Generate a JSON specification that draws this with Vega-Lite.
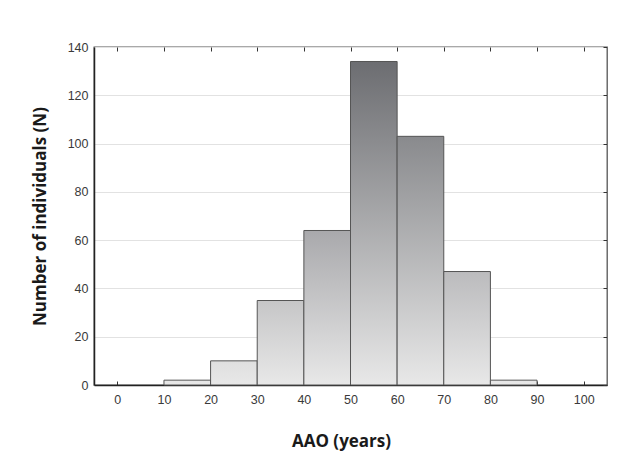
{
  "$schema": "https://vega.github.io/schema/vega-lite/v6.json",
  "width": 513,
  "height": 338,
  "autosize": "none",
  "padding": {"left": 94, "top": 47, "right": 21, "bottom": 88},
  "background": "white",
  "config": {
    "view": {"stroke": "#555555", "strokeWidth": 1.3},
    "axis": {
      "labelFont": "Liberation Sans",
      "labelFontSize": 12.5,
      "labelColor": "#3a3a3a",
      "titleFont": "Open Sans",
      "titleFontSize": 17,
      "titleFontWeight": "bold",
      "titleColor": "#1a1a1a",
      "domainColor": "#222222",
      "domainWidth": 1.5,
      "tickColor": "#333333",
      "tickWidth": 1
    }
  },
  "data": {
    "values": [
      {"start": 10, "end": 20, "count": 2},
      {"start": 20, "end": 30, "count": 10},
      {"start": 30, "end": 40, "count": 35},
      {"start": 40, "end": 50, "count": 64},
      {"start": 50, "end": 60, "count": 134},
      {"start": 60, "end": 70, "count": 103},
      {"start": 70, "end": 80, "count": 47},
      {"start": 80, "end": 90, "count": 2}
    ]
  },
  "resolve": {"axis": {"x": "independent", "y": "independent"}},
  "layer": [
    {
      "mark": {"type": "bar", "opacity": 0},
      "encoding": {
        "x": {"field": "start", "type": "quantitative", "scale": {"domain": [-5, 105], "nice": false, "zero": false},
          "axis": {"orient": "top", "values": [0,10,20,30,40,50,60,70,80,90,100], "labels": false, "domain": false, "grid": false, "tickSize": -4, "title": null}},
        "x2": {"field": "end"},
        "y": {"field": "count", "type": "quantitative", "scale": {"domain": [0, 140], "nice": false},
          "axis": {"orient": "right", "values": [0,20,40,60,80,100,120,140], "labels": false, "domain": false, "grid": false, "tickSize": -4, "title": null}},
        "y2": {"datum": 0}
      }
    },
    {
      "transform": [{"filter": "datum.start == 10"}],
      "mark": {"type": "bar", "stroke": "#555555", "strokeWidth": 1, "fill": {"gradient": "linear", "x1": 0, "y1": 0, "x2": 0, "y2": 1, "stops": [{"offset": 0, "color": "#e6e6e6"}, {"offset": 1, "color": "#e8e8e8"}]}},
      "encoding": {
        "x": {"field": "start", "type": "quantitative", "scale": {"domain": [-5, 105], "nice": false, "zero": false},
          "axis": {"orient": "bottom", "values": [0,10,20,30,40,50,60,70,80,90,100], "grid": false, "tickSize": -4, "labelPadding": 12, "title": "AAO (years)", "titlePadding": 28, "titleX": 247}},
        "x2": {"field": "end"},
        "y": {"field": "count", "type": "quantitative", "scale": {"domain": [0, 140], "nice": false},
          "axis": {"orient": "left", "values": [0,20,40,60,80,100,120,140], "grid": true, "gridColor": "#e2e2e2", "gridWidth": 1, "tickSize": 0, "labelPadding": 6, "title": "Number of individuals (N)", "titlePadding": 18}},
        "y2": {"datum": 0}
      }
    },
    {
      "transform": [{"filter": "datum.start == 20"}],
      "mark": {"type": "bar", "stroke": "#555555", "strokeWidth": 1, "fill": {"gradient": "linear", "x1": 0, "y1": 0, "x2": 0, "y2": 1, "stops": [{"offset": 0, "color": "#dfdfdf"}, {"offset": 1, "color": "#e8e8e8"}]}},
      "encoding": {"x": {"field": "start", "type": "quantitative", "axis": null}, "x2": {"field": "end"}, "y": {"field": "count", "type": "quantitative", "axis": null}, "y2": {"datum": 0}}
    },
    {
      "transform": [{"filter": "datum.start == 30"}],
      "mark": {"type": "bar", "stroke": "#555555", "strokeWidth": 1, "fill": {"gradient": "linear", "x1": 0, "y1": 0, "x2": 0, "y2": 1, "stops": [{"offset": 0, "color": "#c6c6c7"}, {"offset": 1, "color": "#e8e8e8"}]}},
      "encoding": {"x": {"field": "start", "type": "quantitative", "axis": null}, "x2": {"field": "end"}, "y": {"field": "count", "type": "quantitative", "axis": null}, "y2": {"datum": 0}}
    },
    {
      "transform": [{"filter": "datum.start == 40"}],
      "mark": {"type": "bar", "stroke": "#555555", "strokeWidth": 1, "fill": {"gradient": "linear", "x1": 0, "y1": 0, "x2": 0, "y2": 1, "stops": [{"offset": 0, "color": "#a9a9ac"}, {"offset": 1, "color": "#e8e8e8"}]}},
      "encoding": {"x": {"field": "start", "type": "quantitative", "axis": null}, "x2": {"field": "end"}, "y": {"field": "count", "type": "quantitative", "axis": null}, "y2": {"datum": 0}}
    },
    {
      "transform": [{"filter": "datum.start == 50"}],
      "mark": {"type": "bar", "stroke": "#555555", "strokeWidth": 1, "fill": {"gradient": "linear", "x1": 0, "y1": 0, "x2": 0, "y2": 1, "stops": [{"offset": 0, "color": "#6c6d71"}, {"offset": 1, "color": "#e8e8e8"}]}},
      "encoding": {"x": {"field": "start", "type": "quantitative", "axis": null}, "x2": {"field": "end"}, "y": {"field": "count", "type": "quantitative", "axis": null}, "y2": {"datum": 0}}
    },
    {
      "transform": [{"filter": "datum.start == 60"}],
      "mark": {"type": "bar", "stroke": "#555555", "strokeWidth": 1, "fill": {"gradient": "linear", "x1": 0, "y1": 0, "x2": 0, "y2": 1, "stops": [{"offset": 0, "color": "#898a8d"}, {"offset": 1, "color": "#e8e8e8"}]}},
      "encoding": {"x": {"field": "start", "type": "quantitative", "axis": null}, "x2": {"field": "end"}, "y": {"field": "count", "type": "quantitative", "axis": null}, "y2": {"datum": 0}}
    },
    {
      "transform": [{"filter": "datum.start == 70"}],
      "mark": {"type": "bar", "stroke": "#555555", "strokeWidth": 1, "fill": {"gradient": "linear", "x1": 0, "y1": 0, "x2": 0, "y2": 1, "stops": [{"offset": 0, "color": "#bbbbbd"}, {"offset": 1, "color": "#e8e8e8"}]}},
      "encoding": {"x": {"field": "start", "type": "quantitative", "axis": null}, "x2": {"field": "end"}, "y": {"field": "count", "type": "quantitative", "axis": null}, "y2": {"datum": 0}}
    },
    {
      "transform": [{"filter": "datum.start == 80"}],
      "mark": {"type": "bar", "stroke": "#555555", "strokeWidth": 1, "fill": {"gradient": "linear", "x1": 0, "y1": 0, "x2": 0, "y2": 1, "stops": [{"offset": 0, "color": "#e6e6e6"}, {"offset": 1, "color": "#e8e8e8"}]}},
      "encoding": {"x": {"field": "start", "type": "quantitative", "axis": null}, "x2": {"field": "end"}, "y": {"field": "count", "type": "quantitative", "axis": null}, "y2": {"datum": 0}}
    }
  ]
}
